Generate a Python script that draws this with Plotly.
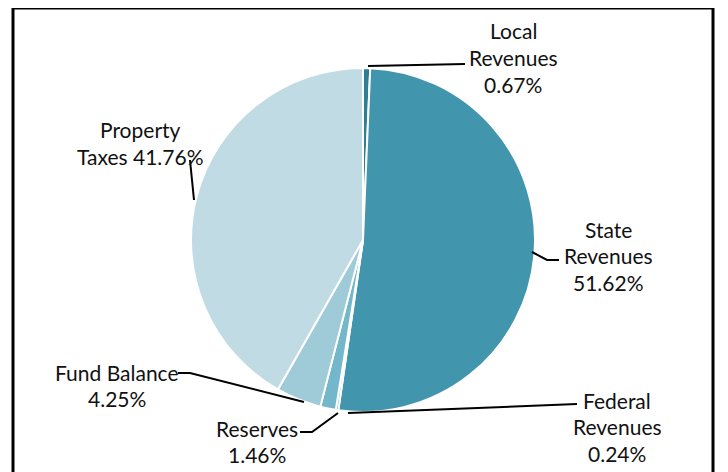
import plotly.graph_objects as go

labels = ["Local Revenues", "State Revenues", "Federal Revenues", "Reserves", "Fund Balance", "Property Taxes"]
values = [0.67, 51.62, 0.24, 1.46, 4.25, 41.76]
colors = ["#2e7f93", "#4195ad", "#4d9fb6", "#74b7ca", "#9fcad8", "#c0dbe4"]
label_lines = [["Local", "Revenues", "0.67%"],
               ["State", "Revenues", "51.62%"],
               ["Federal", "Revenues", "0.24%"],
               ["Reserves", "1.46%"],
               ["Fund Balance", "4.25%"],
               ["Property", "Taxes 41.76%"]]

W, H = 728, 472
OFF = 8  # page body margin
def px(x): return (x - OFF) / W
def py(y): return 1 - (y - OFF) / H

cx, cy, r = 363, 240, 172

fig = go.Figure(go.Pie(
    labels=labels, values=values, sort=False, direction="clockwise", rotation=0,
    marker=dict(colors=colors, line=dict(color="white", width=2)),
    textinfo="none", hoverinfo="label+percent", showlegend=False,
    domain=dict(x=[px(cx - r), px(cx + r)], y=[py(cy + r), py(cy - r)]),
))

pos = [(513, 31), (608, 229), (617, 400), (257, 428), (117, 372), (140, 130)]
annotations = []
for lines, (x, y) in zip(label_lines, pos):
    for i, t in enumerate(lines):
        annotations.append(dict(x=px(x), y=py(y + i * 26.5), xref="paper", yref="paper",
                                text=t, showarrow=False, xanchor="center", yanchor="middle",
                                font=dict(family="Lato", size=21, color="#111111")))

leaders = [
    [(368, 66), (465, 64)],
    [(532, 252), (547, 260), (559, 260)],
    [(348, 413), (577, 404)],
    [(338, 413), (312, 432), (300, 432)],
    [(304, 402), (190, 373), (178, 373)],
    [(194, 200), (190, 160)],
]
shapes = []
for pts in leaders:
    path = "M " + " L ".join(f"{px(x)},{py(y)}" for x, y in pts)
    shapes.append(dict(type="path", path=path, xref="paper", yref="paper",
                       line=dict(color="black", width=2)))
shapes.append(dict(type="rect", xref="paper", yref="paper",
                   x0=px(13), x1=px(713), y0=py(500), y1=py(8),
                   line=dict(color="black", width=3), fillcolor="rgba(0,0,0,0)"))

fig.update_layout(width=W, height=H, margin=dict(l=0, r=0, t=0, b=0),
                  paper_bgcolor="white", plot_bgcolor="white",
                  annotations=annotations, shapes=shapes)
fig.write_html("out.html")
